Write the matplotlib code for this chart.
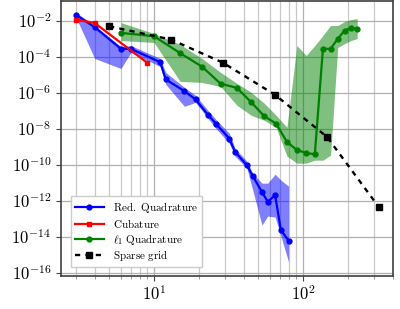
import numpy as np
import matplotlib
matplotlib.use('Agg')
import matplotlib.pyplot as plt
from matplotlib.ticker import FuncFormatter, LogLocator, NullLocator, FixedLocator

plt.rcParams['mathtext.fontset'] = 'cm'

# Red. Quadrature
red_n = [3, 4, 6, 7, 11, 12, 16, 19, 23, 26, 32, 35, 42, 46, 53, 58, 65, 71, 80]
red_err = [2.07e-2, 4.3e-3, 2.7e-4, 2.7e-4, 4.9e-5, 5.4e-6, 1.22e-6, 4.2e-7, 6.0e-8,
           1.92e-8, 2.84e-9, 5.2e-10, 9.4e-11, 2.33e-11, 3.1e-12, 8.8e-13, 2.07e-12,
           2.39e-14, 6.1e-15]
red_hi = [2.8e-2, 5.3e-3, 3.6e-4, 4.1e-4, 7.9e-5, 1.32e-5, 1.96e-6, 7.1e-7, 1.04e-7,
          3.3e-8, 5.6e-9, 8.2e-10, 1.57e-10, 3.4e-11, 9.5e-12, 9.5e-12, 3.0e-11,
          1.4e-11, 6.5e-12]
red_lo = [1.47e-2, 7.9e-5, 2.2e-5, 1.69e-4, 2.84e-5, 2.87e-6, 1.74e-7, 2.9e-7, 3.8e-8,
          1.05e-8, 1.56e-9, 2.98e-10, 6.5e-11, 3.9e-12, 4.5e-14, 1.42e-13, 1.25e-13,
          1.1e-14, 4.1e-16]

# Cubature
cub_n = [3, 4, 9]
cub_err = [1.14e-2, 7.3e-3, 4.6e-5]

# l1 Quadrature
l1_n = [6, 10, 15, 21, 28, 36, 45, 55, 66, 78, 91, 105, 120, 136, 153, 171, 190, 210, 231]
l1_err = [2.08e-3, 1.35e-3, 1.55e-4, 2.77e-5, 3.14e-6, 1.84e-6, 2.9e-7, 4.9e-8, 1.92e-8,
          1.84e-9, 6.6e-10, 4.5e-10, 3.8e-10, 2.7e-4, 2.7e-4, 9.7e-4, 2.8e-3, 3.9e-3, 3.3e-3]
l1_hi = [7.7e-3, 1.91e-3, 4.7e-4, 7.9e-5, 1.32e-5, 3.3e-6, 1.03e-6, 2.55e-7, 5.5e-8,
         1.2e-8, 4.1e-4, 1.16e-4, 4.1e-4, 1.48e-3, 5.3e-3, 5.3e-3, 8.8e-3, 1.14e-2, 1.29e-2]
l1_lo = [7.8e-4, 6.1e-4, 4.2e-6, 3.7e-6, 2.2e-6, 2.0e-7, 5.5e-8, 2.9e-8, 1.2e-8,
         3.0e-10, 1.22e-10, 1.22e-10, 1.79e-10, 1.79e-10, 3.4e-10, 3.2e-4, 5.3e-4, 7.8e-4, 1.0e-3]

# Sparse grid
sg_n = [5, 13, 29, 65, 145, 321]
sg_err = [4.8e-3, 8.9e-4, 4.6e-5, 7.5e-7, 3.5e-9, 4.7e-13]

y_exps = [-16, -14, -12, -10, -8, -6, -4, -2]

fig, ax = plt.subplots(figsize=[4.0, 3.09], dpi=100)
fig.subplots_adjust(left=0.1525, right=0.9825, bottom=0.107, top=0.998)

ax.fill_between(red_n, red_lo, red_hi, color='blue', alpha=0.5, lw=0)
ax.fill_between(l1_n, l1_lo, l1_hi, color='green', alpha=0.5, lw=0)

ax.plot(red_n, red_err, color='blue', marker='o', ms=3.5, lw=1.6,
        label=r'$\mathrm{Red.\ Quadrature}$')
ax.plot(cub_n, cub_err, color='red', marker='s', ms=3.5, lw=1.6,
        label=r'$\mathrm{Cubature}$')
ax.plot(l1_n, l1_err, color='green', marker='o', ms=3.5, lw=1.6,
        label=r'$\ell_1\ \mathrm{Quadrature}$')
ax.plot(sg_n, sg_err, color='black', marker='s', ms=4, lw=1.7, ls=(0, (2.2, 2.2)),
        label=r'$\mathrm{Sparse\ grid}$')

ax.set_xscale('log')
ax.set_yscale('log')
ax.set_xlim(2.377, 401.6)
ax.set_ylim(10**-16.17, 10**-0.893)

ax.xaxis.set_major_locator(LogLocator(base=10, numticks=10))
ax.xaxis.set_minor_locator(LogLocator(base=10, subs=np.arange(2, 10), numticks=20))
ax.yaxis.set_major_locator(FixedLocator([10.0**k for k in y_exps]))
ax.yaxis.set_minor_locator(NullLocator())
fmt = FuncFormatter(lambda v, p: r'$10^{%d}$' % round(np.log10(v)))
ax.xaxis.set_major_formatter(fmt)
ax.yaxis.set_major_formatter(fmt)
ax.xaxis.set_minor_formatter(FuncFormatter(lambda v, p: ''))
ax.tick_params(labelsize=12, color='#444444')
ax.tick_params(which='minor', color='#888888')

ax.grid(True, which='major', color='#b0b0b0', lw=0.9)
ax.grid(True, which='minor', axis='x', color='#c8c8c8', lw=0.9)
ax.set_axisbelow(True)
for s in ax.spines.values():
    s.set_color('#404040')
    s.set_linewidth(1.2)

ax.legend(loc='lower left', fontsize=8, bbox_to_anchor=(0.02, 0.02), fancybox=False,
          framealpha=1.0, edgecolor='#cccccc', handlelength=2.6, labelspacing=0.15,
          borderpad=0.35, borderaxespad=0.3)

plt.savefig('out.png', dpi=100)
